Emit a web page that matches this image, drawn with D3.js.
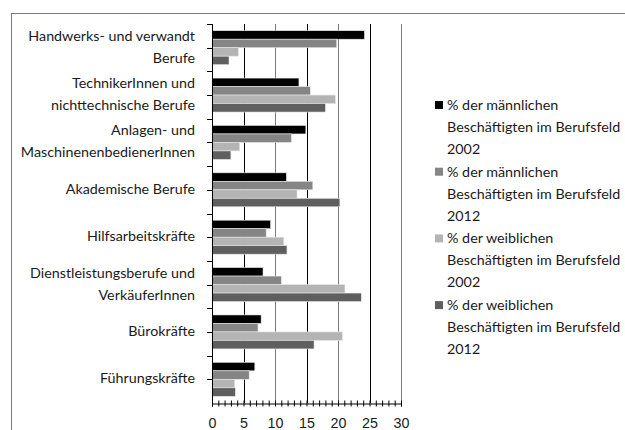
<!DOCTYPE html>
<html>
<head>
<meta charset="utf-8">
<script src="https://cdn.jsdelivr.net/npm/d3@7"></script>
<style>
  body { margin: 0; background: #fff; }
  svg { display: block; font-family: Lato, "Open Sans", sans-serif; }
  .lbl { font-size: 14.3px; fill: #1a1a1a; }
</style>
</head>
<body>
<svg id="chart" width="625" height="430"></svg>
<script>
// categories, top to bottom (each label split into lines)
var categories = [
  ["Handwerks- und verwandt", "Berufe"],
  ["TechnikerInnen und", "nichttechnische Berufe"],
  ["Anlagen- und", "MaschinenenbedienerInnen"],
  ["Akademische Berufe"],
  ["Hilfsarbeitskräfte"],
  ["Dienstleistungsberufe und", "VerkäuferInnen"],
  ["Bürokräfte"],
  ["Führungskräfte"]
];

var seriesNames = [
  ["% der männlichen", "Beschäftigten im Berufsfeld", "2002"],
  ["% der männlichen", "Beschäftigten im Berufsfeld", "2012"],
  ["% der weiblichen", "Beschäftigten im Berufsfeld", "2002"],
  ["% der weiblichen", "Beschäftigten im Berufsfeld", "2012"]
];
var seriesColors = ["#000000", "#858585", "#b4b4b4", "#5f5f5f"];

var male2002   = [24.2, 13.8, 14.9, 11.8,  9.3,  8.1,  7.8, 6.8];
var male2012   = [19.8, 15.6, 12.6, 16.0,  8.6, 11.0,  7.3, 5.9];
var female2002 = [ 4.2, 19.6,  4.4, 13.5, 11.4, 21.1, 20.7, 3.6];
var female2012 = [ 2.7, 18.0,  3.0, 20.3, 11.9, 23.7, 16.2, 3.7];
var allSeries = [male2002, male2012, female2002, female2012];

var xTicks = [0, 5, 10, 15, 20, 25, 30];

var svg = d3.select("#chart");

// outer frame (runs off the right / bottom edge like in the original)
svg.append("rect")
   .attr("x", 11.5).attr("y", 13.5)
   .attr("width", 700).attr("height", 500)
   .attr("fill", "none").attr("stroke", "#7a7a7a");

var catIdx = d3.range(categories.length);
var x = d3.scaleLinear().domain([0, 30]).range([212, 401]);
var y = d3.scaleBand().domain(catIdx).range([24, 403]);
var yInner = d3.scaleBand().domain(d3.range(4))
               .range([0, y.bandwidth()]).paddingOuter(0.79);

// vertical gridlines
svg.append("g").selectAll("line")
   .data(xTicks.slice(1))
   .join("line")
   .attr("x1", function(d) { return Math.round(x(d)) + 0.5; })
   .attr("x2", function(d) { return Math.round(x(d)) + 0.5; })
   .attr("y1", y.range()[0]).attr("y2", y.range()[1])
   .attr("stroke", function(d, i) { return i % 2 ? "#7a7a7a" : "#000"; })
   .attr("stroke-width", 1);

// bars
var groups = svg.append("g").selectAll("g")
   .data(catIdx)
   .join("g")
   .attr("transform", function(c) { return "translate(0," + y(c) + ")"; });

groups.selectAll("rect")
   .data(function(c) { return allSeries.map(function(s, k) { return {k: k, v: s[c]}; }); })
   .join("rect")
   .attr("x", x(0))
   .attr("y", function(d) { return yInner(d.k); })
   .attr("width", function(d) { return x(d.v) - x(0); })
   .attr("height", yInner.bandwidth())
   .attr("fill", function(d) { return seriesColors[d.k]; })
   .attr("stroke", "#e6e6e6").attr("stroke-width", 0.6);

// y axis line + ticks (boundaries and centres)
var yAxis = svg.append("g");
yAxis.append("line")
   .attr("x1", x(0) + 0.5).attr("x2", x(0) + 0.5)
   .attr("y1", y.range()[0]).attr("y2", y.range()[1])
   .attr("stroke", "#000");
yAxis.selectAll("line.tk")
   .data(d3.range(categories.length * 2))
   .join("line").attr("class", "tk")
   .attr("x1", x(0) - 5).attr("x2", x(0))
   .attr("y1", function(i) { return Math.round(y.range()[0] + i * y.step() / 2) + 0.5; })
   .attr("y2", function(i) { return Math.round(y.range()[0] + i * y.step() / 2) + 0.5; })
   .attr("stroke", "#000");

// category labels
svg.append("g").selectAll("text")
   .data(catIdx)
   .join("text")
   .attr("class", "lbl")
   .attr("text-anchor", "end")
   .attr("transform", function(c) {
      var n = categories[c].length;
      return "translate(195," + (y(c) + y.bandwidth() / 2 - 1 - (n - 1) * 11) + ")";
   })
   .selectAll("tspan")
   .data(function(c) { return categories[c]; })
   .join("tspan")
   .attr("x", 0)
   .attr("y", function(d, i) { return i * 22; })
   .attr("dy", "0.35em")
   .text(function(d) { return d; });

// x axis with minor ticks every 1
var xAxis = svg.append("g")
   .attr("transform", "translate(0," + (y.range()[1] + 0.5) + ")")
   .call(d3.axisBottom(x).tickValues(d3.range(0, 31)).tickSize(3)
           .tickFormat(function(d) { return d % 5 === 0 ? d : ""; }));
xAxis.select(".domain").attr("stroke", "#000");
xAxis.selectAll(".tick line").attr("y1", -3).attr("stroke", "#000");
xAxis.selectAll(".tick text")
   .attr("class", "lbl").attr("font-family", null).attr("font-size", null)
   .attr("y", 19).attr("dy", "0.35em").attr("fill", null);

// legend
var legend = svg.append("g").selectAll("g")
   .data(d3.range(seriesNames.length))
   .join("g")
   .attr("transform", function(k) { return "translate(435," + (105 + k * 66.7) + ")"; });
legend.append("rect")
   .attr("x", 0).attr("y", -4).attr("width", 8).attr("height", 8)
   .attr("fill", function(k) { return seriesColors[k]; });
legend.append("text")
   .attr("class", "lbl")
   .selectAll("tspan")
   .data(function(k) { return seriesNames[k]; })
   .join("tspan")
   .attr("x", 12)
   .attr("y", function(d, i) { return i * 22; })
   .attr("dy", "0.35em")
   .text(function(d) { return d; });
</script>
</body>
</html>
